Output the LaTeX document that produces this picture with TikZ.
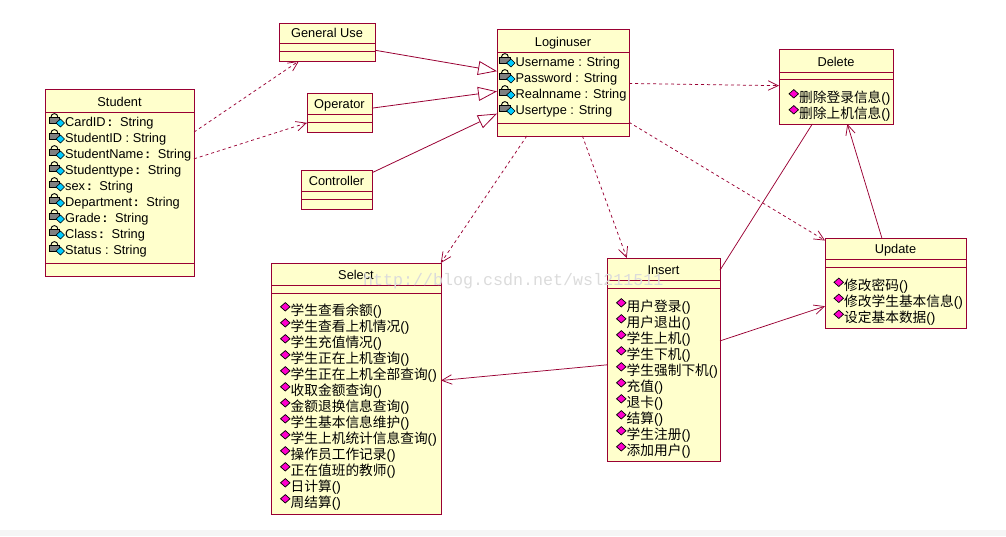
\documentclass[tikz,border=0pt]{standalone}
\usepackage{fontspec}
\setmainfont{Liberation Sans}
\setmonofont{Liberation Mono}
\newfontfamily\cjk{Noto Sans CJK SC}
\usetikzlibrary{arrows.meta}
\definecolor{roseline}{HTML}{990033}
\definecolor{rosefill}{HTML}{FFFFCC}
\definecolor{opmark}{HTML}{FF00CC}
\definecolor{keymark}{HTML}{00CCFF}
\tikzset{
	classbody/.style={draw=roseline, line width=0.9pt, fill=rosefill, inner sep=0pt, outer sep=0pt},
	classline/.style={draw=roseline, line width=0.8pt},
	classtitle/.style={anchor=base, inner sep=0pt, font=\fontsize{12.8}{14}\selectfont},
	rowtext/.style={anchor=base west, inner sep=0pt, font=\fontsize{12.8}{14}\selectfont},
	optext/.style={anchor=base west, inner sep=0pt, font=\fontsize{13.7}{15}\selectfont},
	assoc/.style={draw=roseline, line width=0.75pt, -{Straight Barb[length=10pt,width=9.5pt,line width=0.75pt]}},
	depend/.style={assoc, dash pattern=on 3pt off 3pt},
	inherit/.style={draw=roseline, line width=0.8pt, -{Triangle[length=19pt,width=14pt,fill=white,line width=0.8pt]}},
}
% box with title and two compartment lines
\def\classbox[#1](#2,#3)(#4,#5)(#6,#7)#8{
	\node[classbody, minimum width={(#4-#2)*1pt}, minimum height={(#5-#3)*1pt}] (#1) at ({(#2+#4)/2},{(#3+#5)/2}) {};
	\draw[classline] (#2,#6) -- (#4,#6);
	\draw[classline] (#2,#7) -- (#4,#7);
	\node[classtitle] (#1-title) at ({(#2+#4)/2},{#6-6}) {#8};
}
% padlock and key icon, text starts at (#1,#2)
\def\lockicon(#1,#2){
	\draw[black, line width=0.9pt] (#1-14,#2-9.5) arc (180:360:3.4 and 3.4);
	\draw[black, fill=black!50, line width=0.7pt] (#1-16,#2-9.5) rectangle (#1-5.5,#2-3);
	\draw[black, fill=keymark, line width=0.6pt] (#1-9,#2-3.5) -- (#1-4.5,#2-7.5) -- (#1-0.5,#2-3.5) -- (#1-4.5,#2+0.5) -- cycle;
}
% operation marker
\def\opicon(#1,#2){
	\draw[black, fill=opmark, line width=0.7pt] (#1-10,#2-8.2) -- (#1-5.2,#2-12.4) -- (#1-0.5,#2-8.2) -- (#1-5.2,#2-4) -- cycle;
}
\def\cc{\,\textbf{:}\hspace{0.62em}}

\begin{document}
\begin{tikzpicture}[x=1pt, y=-1pt]
	%%%%% START %%%%%
	\useasboundingbox (0,0) rectangle (1006,536);
	\fill[black!4] (0,530) rectangle (1006,536);
	
	\classbox[student](45,89)(194,276)(112,263){Student}
	\classbox[generaluse](279,23)(375,61)(43,51){General Use}
	\classbox[operator](307,93)(372,132)(114,122){Operator}
	\classbox[controller](301,170)(372,209)(191,199){Controller}
	\classbox[loginuser](497,29)(629,136)(52,123){Loginuser}
	\classbox[delete](779,49)(893,124)(72,79){Delete}
	\classbox[update](825,238)(966,328)(259,267){Update}
	\classbox[insert](607,258)(720,461)(280,288){Insert}
	\classbox[select](271,263)(441,514)(285,293){Select}
	
	% attributes
	\foreach \i/\txt in {0/CardID\cc String, 1/StudentID : String, 2/StudentName\cc String, 3/Studenttype\cc String, 4/sex\cc String, 5/Department\cc String, 6/Grade\cc String, 7/Class\cc String, 8/Status : String}{
		\lockicon(65,126.5+16*\i)
		\node[rowtext] (student-\i) at (65,{126.5+16*\i}) {\txt};
	}
	\foreach \i/\txt in {0/Username : String, 1/Password : String, 2/Realnname : String, 3/Usertype : String}{
		\lockicon(515.5,66.5+16*\i)
		\node[rowtext] (loginuser-\i) at (515.5,{66.5+16*\i}) {\txt};
	}
	
	% operations
	\foreach \i/\txt in {0/学生查看余额, 1/学生查看上机情况, 2/学生充值情况, 3/学生正在上机查询, 4/学生正在上机全部查询, 5/收取金额查询, 6/金额退换信息查询, 7/学生基本信息维护, 8/学生上机统计信息查询, 9/操作员工作记录, 10/正在值班的教师, 11/日计算, 12/周结算}{
		\opicon(290.5,315+16*\i)
		\node[optext] (select-\i) at (290.5,{315+16*\i}) {{\cjk\txt}()};
	}
	\foreach \i/\txt in {0/用户登录, 1/用户退出, 2/学生上机, 3/学生下机, 4/学生强制下机, 5/充值, 6/退卡, 7/结算, 8/学生注册, 9/添加用户}{
		\opicon(626.5,311+16*\i)
		\node[optext] (insert-\i) at (626.5,{311+16*\i}) {{\cjk\txt}()};
	}
	\foreach \i/\txt in {0/修改密码, 1/修改学生基本信息, 2/设定基本数据}{
		\opicon(844,290.5+16*\i)
		\node[optext] (update-\i) at (844,{290.5+16*\i}) {{\cjk\txt}()};
	}
	\foreach \i/\txt in {0/删除登录信息, 1/删除上机信息}{
		\opicon(799,102+16*\i)
		\node[optext] (delete-\i) at (799,{102+16*\i}) {{\cjk\txt}()};
	}
	
	% connectors
	\draw[depend] (student) -- (generaluse);
	\draw[depend] (student) -- (operator);
	\draw[inherit] (generaluse) -- (loginuser);
	\draw[inherit] (operator) -- (loginuser);
	\draw[inherit] (controller) -- (loginuser);
	\draw[depend] (loginuser) -- (delete);
	\draw[depend] (loginuser) -- (update);
	\draw[depend] (loginuser) -- (select);
	\draw[depend] (loginuser) -- (insert);
	\draw[assoc] (update) -- (delete);
	\draw[assoc, -] (insert) -- (delete);
	\draw[assoc] (insert) -- (update);
	\draw[assoc] (insert) -- (select);
	
	\node[anchor=base west, inner sep=0pt, text=black!14, font=\ttfamily\fontsize{16.67}{18}\selectfont] (watermark) at (363,285) {http://blog.csdn.net/wsl211511};
	%%%%% END %%%%%
\end{tikzpicture}
\end{document}
